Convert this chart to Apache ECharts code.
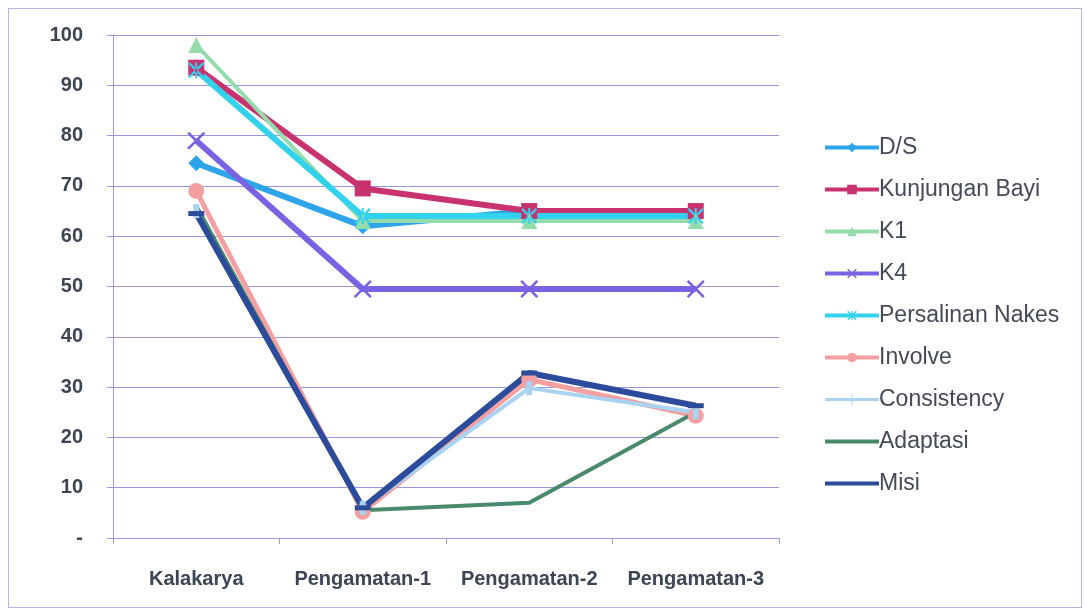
<!DOCTYPE html>
<html>
<head>
<meta charset="utf-8">
<script src="https://cdn.jsdelivr.net/npm/echarts@6/dist/echarts.min.js"></script>
<style>
  html, body { margin: 0; padding: 0; background: #fff; }
  #frame { position: absolute; left: 8px; top: 8px; width: 1074px; height: 600px; border: 1.5px solid #b4b4ee; box-sizing: border-box; }
  #chart { position: absolute; left: 0; top: 0; width: 1085px; height: 615px; }
</style>
</head>
<body>
<div id="frame"></div>
<div id="chart"></div>
<script>
const categories = ['Kalakarya', 'Pengamatan-1', 'Pengamatan-2', 'Pengamatan-3'];

const ds              = [74.5, 62, 65, 65];
const kunjunganBayi   = [93.5, 69.5, 65, 65];
const k1              = [98, 63, 63, 63];
const k4              = [79, 49.5, 49.5, 49.5];
const persalinanNakes = [93, 64, 64, 64];
const involve         = [69, 5.2, 31.5, 24.3];
const consistency     = [65, 6, 29.8, 25];
const adaptasi        = [66, 5.5, 7, 25];
const misi            = [64.5, 6, 32.8, 26.3];

// marker shapes
const xMark = 'path://M0,1L1,0L5,4L9,0L10,1L6,5L10,9L9,10L5,6L1,10L0,9L4,5Z';
const starMark = 'path://M0,1L1,0L5,4L9,0L10,1L6,5L10,9L9,10L5,6L1,10L0,9L4,5Z M4.4,0L4.4,10L5.6,10L5.6,0Z';
const tickMark = 'path://M4.4,0H5.6V10H4.4Z';
// legend icons for series without a visible marker
const barIcon = 'path://M0,0H54V4H0Z';
const tickIcon = 'path://M0,4.5H54V7.5H0Z M26.5,0H27.5V12H26.5Z';

const fontFamily = '"Liberation Sans", Arial, sans-serif';

function line(name, data, color, width, symbol, size) {
  return {
    name: name, type: 'line', data: data,
    symbol: symbol, symbolSize: size, showSymbol: symbol !== 'none',
    lineStyle: { color: color, width: width },
    itemStyle: { color: color },
    emphasis: { disabled: true }
  };
}

const chart = echarts.init(document.getElementById('chart'), null, { renderer: 'canvas' });
chart.setOption({
  animation: false,
  backgroundColor: 'transparent',
  grid: { left: 113, right: 306, top: 35, bottom: 77 },
  xAxis: {
    type: 'category',
    data: categories,
    boundaryGap: true,
    axisLine: { lineStyle: { color: '#9a9ae6', width: 1 } },
    axisTick: { show: true, length: 6, lineStyle: { color: '#9a9ae6' } },
    axisLabel: { interval: 0, margin: 31, color: '#3d4453', fontSize: 20, fontWeight: 'bold', fontFamily: fontFamily }
  },
  yAxis: {
    type: 'value', min: 0, max: 100, interval: 10,
    axisLine: { show: true, lineStyle: { color: '#9a9ae6', width: 1 } },
    axisTick: { show: true, length: 6, lineStyle: { color: '#9a9ae6' } },
    splitLine: { lineStyle: { color: '#9696e4', width: 1 } },
    axisLabel: {
      margin: 30, color: '#3d4453', fontSize: 20, fontWeight: 'bold', fontFamily: fontFamily,
      formatter: function (v) { return v === 0 ? '-' : String(v); }
    }
  },
  legend: {
    orient: 'vertical', left: 818, top: 131, itemGap: 19,
    itemWidth: 54, itemHeight: 12,
    lineStyle: { width: 4 },
    textStyle: { color: '#454a58', fontSize: 23, fontFamily: fontFamily, padding: [0, 0, 0, -5] },
    data: [
      'D/S', 'Kunjungan Bayi', 'K1', 'K4', 'Persalinan Nakes', 'Involve',
      { name: 'Consistency', icon: tickIcon },
      { name: 'Adaptasi', icon: barIcon },
      { name: 'Misi', icon: barIcon }
    ]
  },
  series: [
    line('D/S', ds, '#2ea5ea', 6, 'diamond', 16),
    line('Kunjungan Bayi', kunjunganBayi, '#c8336f', 6, 'rect', 16),
    line('K1', k1, '#95dcac', 4, 'triangle', 16),
    line('K4', k4, '#7a62e2', 6, xMark, 18),
    line('Persalinan Nakes', persalinanNakes, '#32d2ec', 6, starMark, 16),
    line('Involve', involve, '#f4a0a2', 5, 'circle', 16),
    line('Consistency', consistency, '#a9d3f1', 4, tickMark, [6, 14]),
    line('Adaptasi', adaptasi, '#4a8a6c', 4, 'none', 0),
    line('Misi', misi, '#2d4b9b', 6, 'rect', [16, 5])
  ]
});
</script>
</body>
</html>
